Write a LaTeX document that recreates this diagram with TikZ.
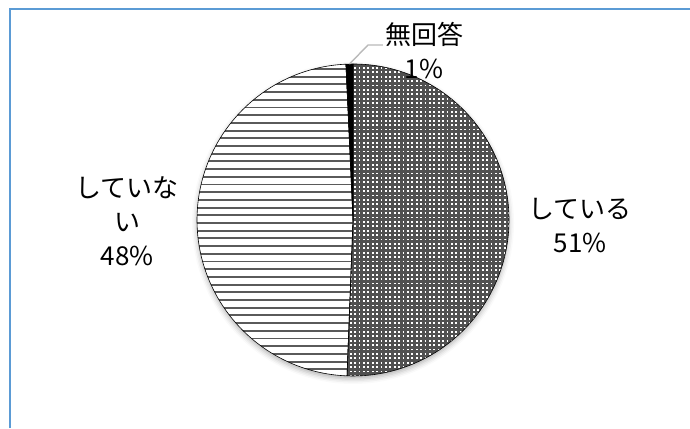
\documentclass[tikz,border=0pt]{standalone}
\usepackage{fontspec}
\setmainfont{Noto Sans CJK JP}
\usetikzlibrary{shadows.blur,calc}
\definecolor{frameblue}{RGB}{91,155,213}
\definecolor{fillgray}{RGB}{80,80,80}
\definecolor{linegray}{RGB}{90,90,90}

\begin{document}
\begin{tikzpicture}[
  x=1pt, y=1pt,
  font=\fontsize{26}{34}\selectfont,
  lbl/.style   ={align=center, inner sep=2pt},
  slice/.style ={draw=black, line width=0.6pt, line join=round},
  stripe/.style={draw=linegray, line width=1.9pt},
  dotrow/.style={draw=white, line width=1.8pt, dash pattern=on 1.8pt off 2.6pt},
  leader/.style={draw=gray!55, line width=1.4pt},
  frame/.style ={draw=frameblue, line width=2pt}
]
\useasboundingbox (0,0) rectangle (690,428);

% ==================================================
% FRAME (cut off at right and bottom)
% ==================================================
\draw[frame] (9.5,0) -- (9.5,419) -- (690,419);

% ==================================================
% PIE
% ==================================================
\coordinate (c) at (353,208);
\path[fill=white, blur shadow={shadow xshift=0pt, shadow yshift=-3pt,
  shadow blur radius=5pt, shadow opacity=30}] (c) circle[radius=156];

% している 50.6%
\begin{scope}
  \clip (c) -- ++(90:156) arc[start angle=90, end angle=-92.2, radius=156] -- cycle;
  \fill[fillgray] (340,50) rectangle (512,366);
  \foreach \k in {0,...,71}
    \draw[dotrow] (341,{52+4.4*\k}) -- (512,{52+4.4*\k});
\end{scope}
\path[slice] (c) -- ++(90:156)
  arc[start angle=90, end angle=-92.2, radius=156] -- cycle;

% していない 48.7%
\begin{scope}
  \clip (c) -- ++(-92.2:156) arc[start angle=-92.2, end angle=-267.4, radius=156] -- cycle;
  \foreach \k in {0,...,41}
    \draw[stripe] (195,{51+7.7*\k}) -- (360,{51+7.7*\k});
\end{scope}
\path[slice] (c) -- ++(-92.2:156)
  arc[start angle=-92.2, end angle=-267.4, radius=156] -- cycle;

% 無回答 0.7%
\path[slice, fill=black] (c) -- ++(92.6:156)
  arc[start angle=92.6, end angle=90, radius=156] -- cycle;

% ==================================================
% LABELS
% ==================================================
\node[lbl] (lblyes) at (580,202) {している\\51\%};
\node[lbl] (lblno)  at (127,207) {していな\\い\\48\%};
\node[lbl] (lblna)  at (424,377) {無回答\\1\%};

% leader to the small slice
\coordinate (naedge) at ($(c)+(91.3:156)$);
\coordinate (nabend) at (368,383);
\draw[leader] (naedge) -- (nabend) -- ([yshift=6pt]lblna.west);

\end{tikzpicture}
\end{document}
